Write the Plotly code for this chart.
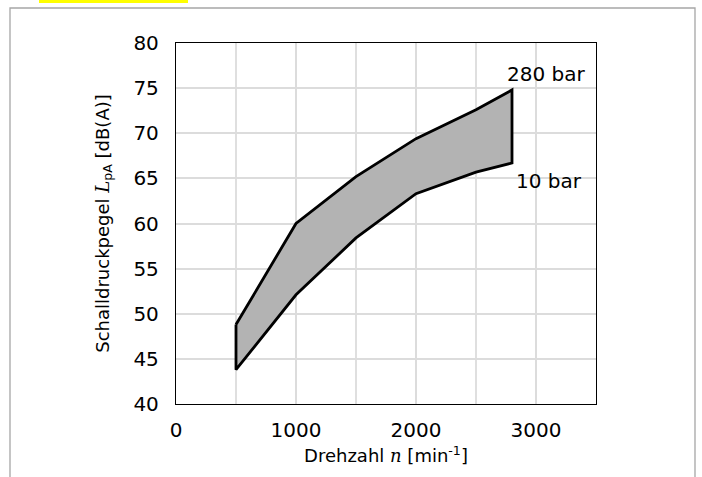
import plotly.graph_objects as go

# Drehzahl [min^-1]
n_upper = [500, 1000, 1500, 2000, 2500, 2800]
lpa_280bar = [48.8, 60.0, 65.2, 69.4, 72.6, 74.8]
n_lower = [500, 1000, 1500, 2000, 2500, 2800]
lpa_10bar = [43.8, 52.1, 58.4, 63.3, 65.7, 66.7]

x_ticks = [0, 1000, 2000, 3000]
y_ticks = [40, 45, 50, 55, 60, 65, 70, 75, 80]

font_main = "DejaVu Sans, sans-serif"

# closed band: upper curve forward, lower curve backwards
band_x = n_upper + n_lower[::-1] + [n_upper[0]]
band_y = lpa_280bar + lpa_10bar[::-1] + [lpa_280bar[0]]

fig = go.Figure()
fig.add_trace(go.Scatter(
    x=band_x, y=band_y, mode="lines", fill="toself",
    fillcolor="#b3b3b3",
    line=dict(color="black", width=2.8, shape="linear"),
    hoverinfo="skip", showlegend=False
))

# plot edges in pixels
x0, x1 = 176, 596
y0, y1 = 404, 43
W, H = 702, 477
def px(x): return (x - x0) / (x1 - x0)
def py(y): return (y0 - y) / (y0 - y1)

fig.update_layout(
    width=W, height=H,
    margin=dict(l=x0, r=W - x1, t=y1, b=H - y0),
    paper_bgcolor="white", plot_bgcolor="white",
    font=dict(family=font_main, size=18, color="black"),
    showlegend=False,
    xaxis=dict(
        range=[0, 3500], tickmode="array", tickvals=x_ticks, ticks="",
        showgrid=True, gridcolor="#dcdcdc", gridwidth=1.8,
        showline=True, linecolor="black", linewidth=1.3, mirror=True,
        zeroline=False, tickfont=dict(size=20), ticklabelstandoff=8,
        title=dict(text="Drehzahl <i><span style='font-family:DejaVu Serif'>n</span></i> [min<sup>-1</sup>]",
                   font=dict(size=18), standoff=8),
    ),
    yaxis=dict(
        range=[40, 80], tickmode="array", tickvals=y_ticks, ticks="",
        showgrid=True, gridcolor="#dcdcdc", gridwidth=1.8,
        showline=True, linecolor="black", linewidth=1.3, mirror=True,
        zeroline=False, tickfont=dict(size=20), ticklabelstandoff=12,
        title=dict(text="Schalldruckpegel <i><span style='font-family:DejaVu Serif'>L</span></i><sub>pA</sub> [dB(A)]",
                   font=dict(size=18), standoff=19),
    ),
)

# extra vertical gridlines at the half thousands
for xv in [500, 1500, 2500]:
    fig.add_shape(type="line", x0=xv, x1=xv, y0=40, y1=80, xref="x", yref="y",
                  line=dict(color="#dcdcdc", width=1.8), layer="below")

fig.add_annotation(x=2745, y=76.6, text="280 bar", showarrow=False,
                   xanchor="left", yanchor="middle", font=dict(size=20))
fig.add_annotation(x=2815, y=64.7, text="10 bar", showarrow=False,
                   xanchor="left", yanchor="middle", font=dict(size=20))

# outer page frame and highlighted heading remnant
fig.add_shape(type="rect", xref="paper", yref="paper",
              x0=px(10), x1=px(695), y0=py(8), y1=py(490),
              line=dict(color="#a6a6a6", width=1.3), layer="below")
fig.add_shape(type="rect", xref="paper", yref="paper",
              x0=px(39), x1=px(188), y0=py(0), y1=py(3),
              fillcolor="#ffff00", line=dict(width=0))

fig.write_html("out.html", config={"displayModeBar": False},
               post_script="document.body.style.margin='0';document.body.style.overflow='hidden';")
